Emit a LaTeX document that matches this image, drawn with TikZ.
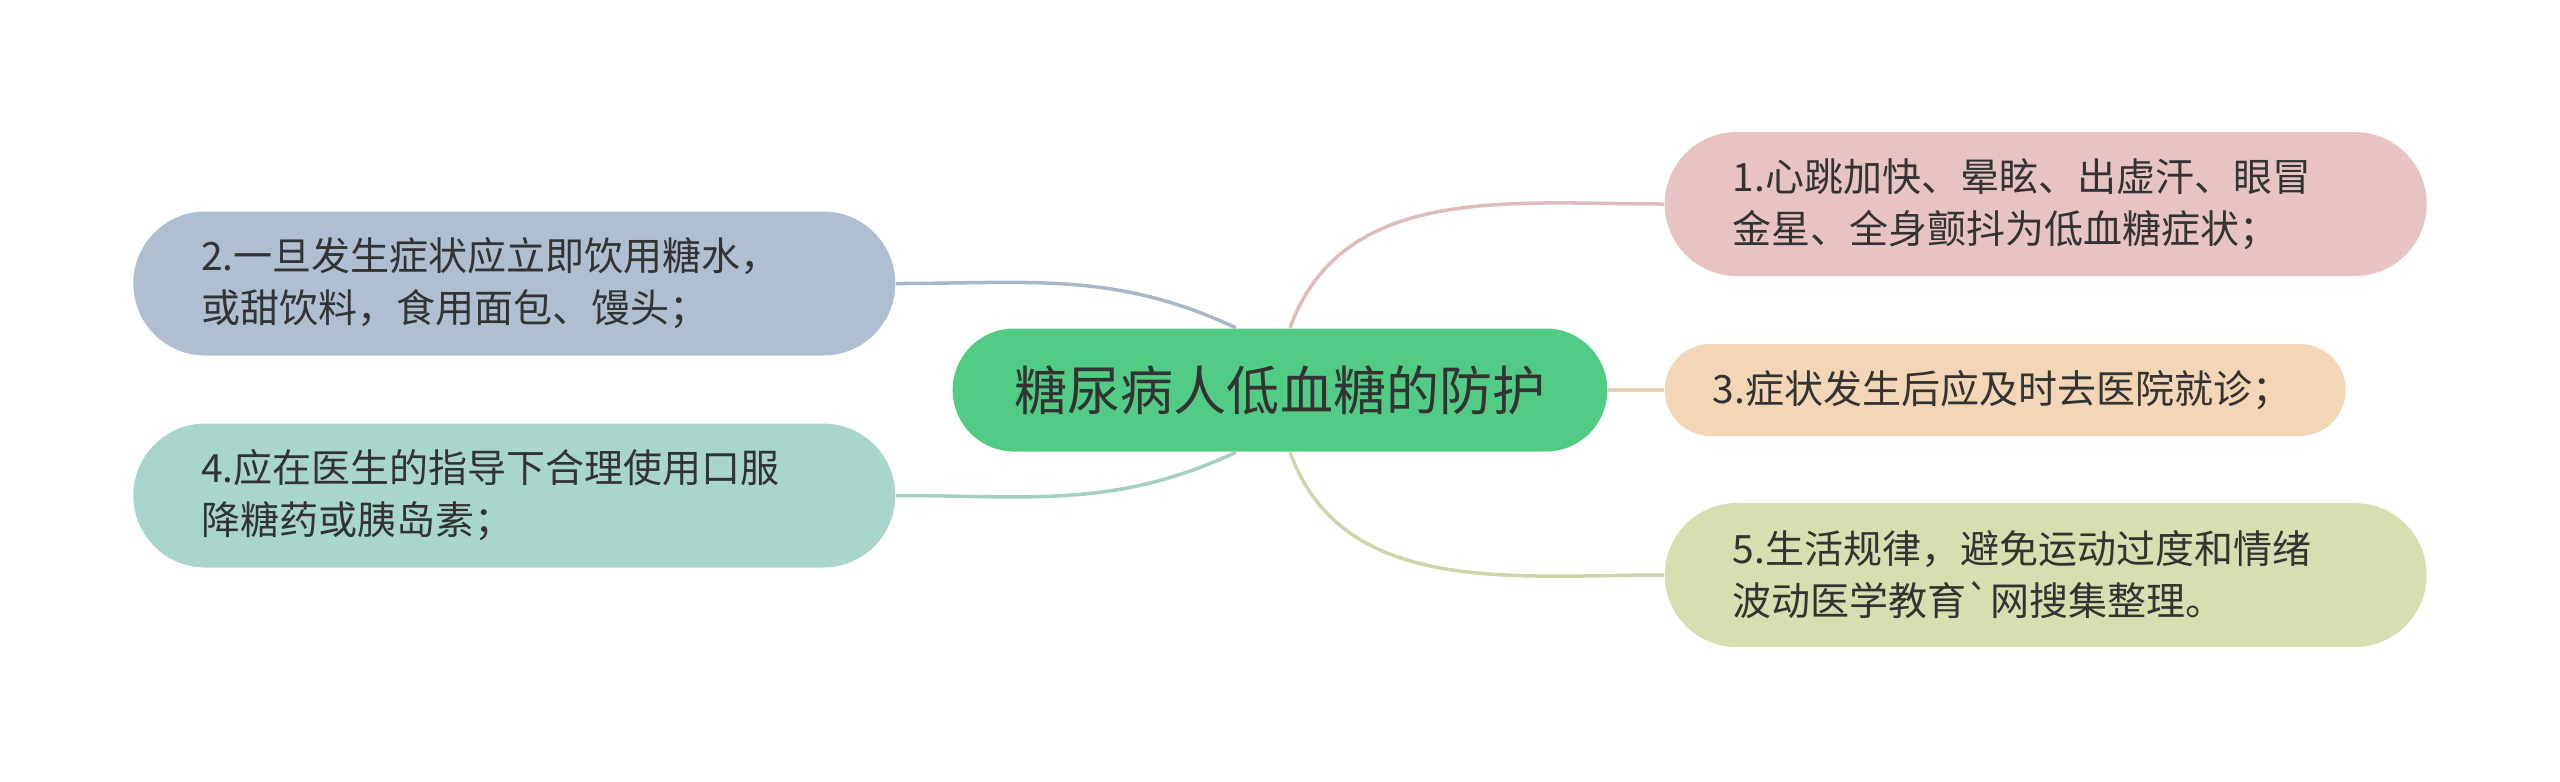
\documentclass[tikz,border=0pt]{standalone}
\usepackage{fontspec}
\newfontfamily\cjk{Noto Sans CJK SC}
\definecolor{rootgreen}{HTML}{52CC85}
\definecolor{pinkbox}{HTML}{E8C3C3}
\definecolor{bluebox}{HTML}{AFBFD1}
\definecolor{peachbox}{HTML}{F3D6B6}
\definecolor{tealbox}{HTML}{A9D6CC}
\definecolor{olivebox}{HTML}{D9DEB0}
\definecolor{textgray}{HTML}{333333}
\begin{document}
\begin{tikzpicture}[
  topic/.style={rounded corners=0.615cm,fill=rootgreen,text=textgray,font=\cjk\fontsize{15.1}{18}\selectfont,inner xsep=0.62cm,minimum height=1.23cm},
  leaf/.style={rounded corners=0.72cm,text=textgray,font=\cjk\fontsize{11.1}{14.8}\selectfont,align=left,inner xsep=0.68cm,text width=6.26cm,minimum height=1.44cm},
  link/.style={line width=1pt}
]
\useasboundingbox (0,0) rectangle (25.6,-7.81);
\node[topic] (root) at (12.8,-3.9) {糖尿病人低血糖的防护};
% right side
\node[leaf,fill=pinkbox,anchor=west] (s1) at (16.64,-2.04) {1.心跳加快、晕眩、出虚汗、眼冒\\金星、全身颤抖为低血糖症状；};
\node[leaf,fill=peachbox,anchor=west,rounded corners=0.46cm,minimum height=0.92cm,inner xsep=0.48cm,text width=5.85cm] (s3) at (16.64,-3.9) {3.症状发生后应及时去医院就诊；};
\node[leaf,fill=olivebox,anchor=west] (s5) at (16.64,-5.75) {5.生活规律，避免运动过度和情绪\\波动医学教育`网搜集整理。};
% left side
\node[leaf,fill=bluebox,anchor=east] (s2) at (8.96,-2.835) {2.一旦发生症状应立即饮用糖水，\\或甜饮料，食用面包、馒头；};
\node[leaf,fill=tealbox,anchor=east] (s4) at (8.96,-4.955) {4.应在医生的指导下合理使用口服\\降糖药或胰岛素；};
\draw[link,pinkbox!96!black] ([xshift=0.1cm]root.north) to[out=70,in=180] (s1.west);
\draw[link,peachbox!96!black] (root.east) -- (s3.west);
\draw[link,olivebox!96!black] ([xshift=0.1cm]root.south) to[out=-70,in=180] (s5.west);
\draw[link,bluebox!96!black] ([xshift=-0.44cm]root.north) to[out=155,in=0] (s2.east);
\draw[link,tealbox!96!black] ([xshift=-0.44cm]root.south) to[out=-155,in=0] (s4.east);
\end{tikzpicture}
\end{document}
